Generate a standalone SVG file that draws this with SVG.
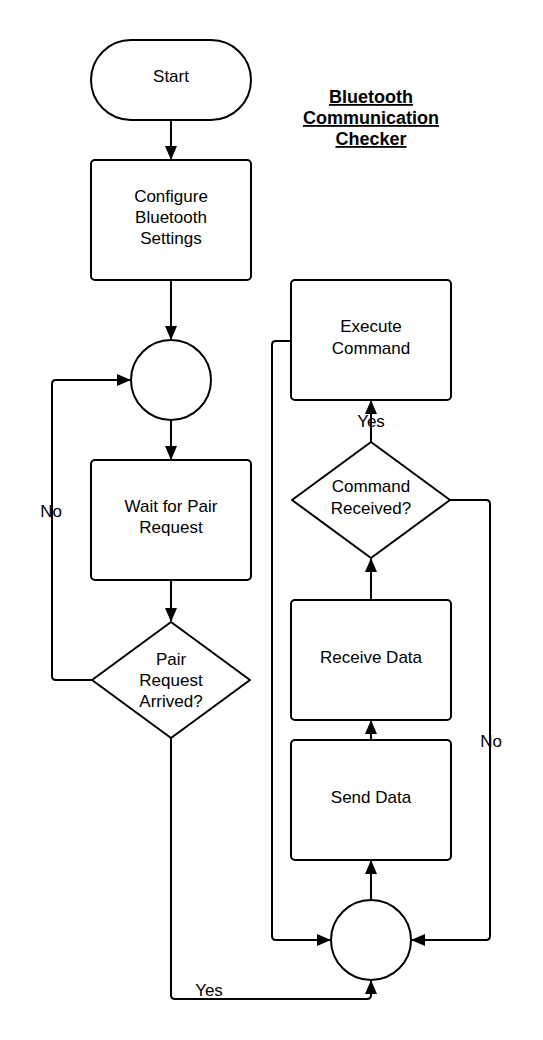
<svg xmlns="http://www.w3.org/2000/svg" width="543" height="1040" viewBox="0 0 543 1040">
<defs>
<marker id="arr" viewBox="0 0 14 12" refX="13" refY="6" markerWidth="14" markerHeight="12" markerUnits="userSpaceOnUse" orient="auto">
<path d="M0,0 L14,6 L0,12 Z" fill="#000"/>
</marker>
<style>
.shape{fill:#fff;stroke:#000;stroke-width:2;stroke-linejoin:round}
.edge{fill:none;stroke:#000;stroke-width:2;stroke-linejoin:round}
text{font-family:"Liberation Sans",Arial,sans-serif;font-size:17px;fill:#000;text-anchor:middle}
.title{font-weight:bold;font-size:18px;text-decoration:underline}
</style>
</defs>
<rect width="543" height="1040" fill="#fff"/>
<g id="connectors">
<path class="edge" d="M171,120 L171,159" marker-end="url(#arr)"/>
<path class="edge" d="M171,280 L171,339" marker-end="url(#arr)"/>
<path class="edge" d="M171,420 L171,459" marker-end="url(#arr)"/>
<path class="edge" d="M171,580 L171,621" marker-end="url(#arr)"/>
<path class="edge" d="M92,680 L56,680 Q52,680 52,676 L52,384 Q52,380 56,380 L130,380" marker-end="url(#arr)"/>
<path class="edge" d="M171,738 L171,995 Q171,999 175,999 L367,999 Q371,999 371,995 L371,981" marker-end="url(#arr)"/>
<path class="edge" d="M371,900 L371,861" marker-end="url(#arr)"/>
<path class="edge" d="M371,740 L371,721" marker-end="url(#arr)"/>
<path class="edge" d="M371,600 L371,559" marker-end="url(#arr)"/>
<path class="edge" d="M371,442 L371,401" marker-end="url(#arr)"/>
<path class="edge" d="M450,500 L486,500 Q490,500 490,504 L490,936 Q490,940 486,940 L412,940" marker-end="url(#arr)"/>
<path class="edge" d="M291,341 L276,341 Q272,341 272,345 L272,936 Q272,940 276,940 L330,940" marker-end="url(#arr)"/>
<text x="51" y="517">No</text>
<text x="209" y="996">Yes</text>
<text x="371" y="427">Yes</text>
<text x="491" y="747">No</text>
</g>
<g id="title">
<text class="title" x="371" y="103">Bluetooth</text>
<text class="title" x="371" y="124">Communication</text>
<text class="title" x="371" y="145">Checker</text>
</g>
<g id="start">
<rect class="shape" x="91" y="40" width="160" height="80" rx="40" ry="40"/>
<text x="171" y="82">Start</text>
</g>
<g id="configure">
<rect class="shape" x="91" y="160" width="160" height="120" rx="4" ry="4"/>
<text x="171" y="202">Configure</text>
<text x="171" y="223">Bluetooth</text>
<text x="171" y="244">Settings</text>
</g>
<g id="junction1">
<circle class="shape" cx="171" cy="380" r="40"/>
</g>
<g id="wait">
<rect class="shape" x="91" y="460" width="160" height="120" rx="4" ry="4"/>
<text x="171" y="512">Wait for Pair</text>
<text x="171" y="533">Request</text>
</g>
<g id="pairArrived">
<path class="shape" d="M171,622 L250,680 L171,738 L92,680 Z"/>
<text x="171" y="665">Pair</text>
<text x="171" y="686">Request</text>
<text x="171" y="707">Arrived?</text>
</g>
<g id="execute">
<rect class="shape" x="291" y="280" width="160" height="120" rx="4" ry="4"/>
<text x="371" y="332">Execute</text>
<text x="371" y="354">Command</text>
</g>
<g id="cmdReceived">
<path class="shape" d="M371,442 L450,500 L371,558 L292,500 Z"/>
<text x="371" y="492">Command</text>
<text x="371" y="514">Received?</text>
</g>
<g id="receive">
<rect class="shape" x="291" y="600" width="160" height="120" rx="4" ry="4"/>
<text x="371" y="663">Receive Data</text>
</g>
<g id="send">
<rect class="shape" x="291" y="740" width="160" height="120" rx="4" ry="4"/>
<text x="371" y="803">Send Data</text>
</g>
<g id="junction2">
<circle class="shape" cx="371" cy="940" r="40"/>
</g>
</svg>
